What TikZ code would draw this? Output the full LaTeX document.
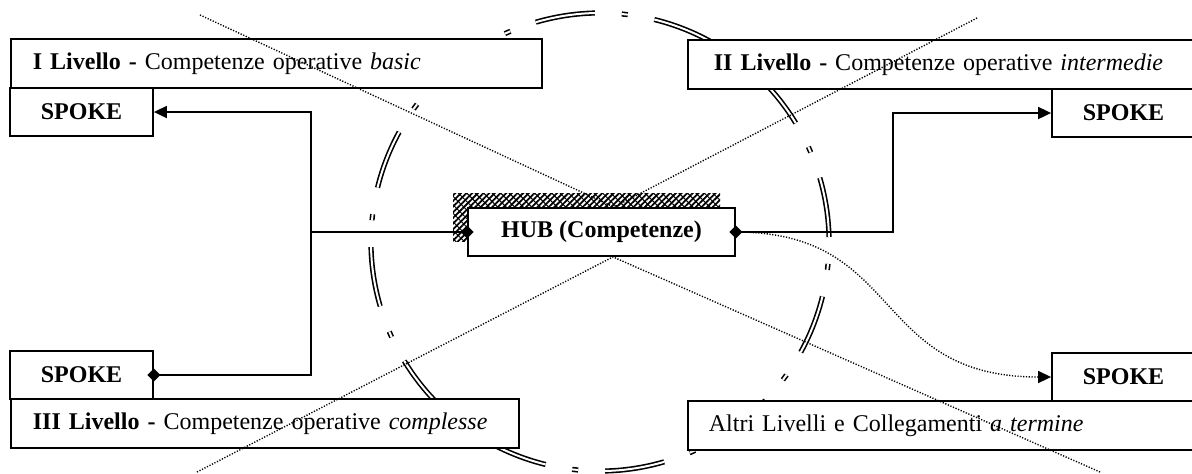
\documentclass[tikz,border=0pt]{standalone}
\usepackage{fontspec}
\setmainfont{Liberation Serif}
\usetikzlibrary{arrows.meta,patterns.meta}
\tikzset{
  tri/.tip={Triangle[length=6.5pt,width=6pt]},
  dia/.tip={Diamond[length=6.5pt,width=6.5pt]},
  box/.style={draw, line width=0.9pt, fill=white, inner sep=0pt},
  livbox/.style={box, anchor=west, minimum height=24.5pt, align=left},
  spokebox/.style={box, minimum width=71.5pt, minimum height=24pt, font=\fontsize{12pt}{14pt}\selectfont\bfseries},
  hubbox/.style={box, minimum width=133.5pt, minimum height=24pt, font=\fontsize{12pt}{14pt}\selectfont\bfseries},
  conn/.style={line width=0.9pt},
  dstart/.style={shorten <=-3.25pt},
  dend/.style={shorten >=-3.25pt},
  dotline/.style={line width=0.7pt, dash pattern=on 0.6pt off 0.8pt},
  ring/.style={double, line width=0.8pt, double distance=1pt,
    dash pattern=on 29.97pt off 13.49pt on 3pt off 13.49pt},
}
\begin{document}
\begin{tikzpicture}[x=0.5pt,y=-0.5pt,font=\fontsize{12pt}{14pt}\selectfont]
\fill[white] (0,0) rectangle (1192,473);
\useasboundingbox (0,0) rectangle (1192,473);

% dashed double ring
\draw[ring] (600,242) ++(16.25:114.5pt) arc[start angle=16.25, end angle=-343.75, radius=114.5pt];

% level boxes and spokes
\node[livbox, text width=243.5pt, inner xsep=11pt] (liv1) at (10,63.5)
  {\mbox{\textbf{I Livello -} Competenze operative \textit{basic}}};
\node[spokebox] (sp1) at (81.5,112) {SPOKE};
\node[livbox, text width=228pt, inner xsep=13pt] (liv2) at (687,64.5)
  {\mbox{\textbf{II Livello -} Competenze operative \textit{intermedie}}};
\node[spokebox] (sp2) at (1123.5,113) {SPOKE};
\node[livbox, text width=232pt, inner xsep=11pt] (liv3) at (10,423.5)
  {\mbox{\textbf{III Livello -} Competenze operative \textit{complesse}}};
\node[spokebox] (sp3) at (81.5,375) {SPOKE};
\node[livbox, text width=233pt, inner xsep=10.5pt] (liv4) at (687,425.5)
  {\mbox{Altri Livelli e Collegamenti \textit{a termine}}};
\node[spokebox] (sp4) at (1123.5,377) {SPOKE};

% hatched shadow and hub
\fill[pattern={Lines[angle=45,distance=2pt,line width=0.9pt]}] (453,193) rectangle (720,241);
\fill[pattern={Lines[angle=-45,distance=3pt,line width=0.5pt]}] (453,193) rectangle (720,241);
\node[hubbox] (hub) at (601.5,232) {HUB (Competenze)};

% dotted X
\coordinate (c1) at (200,15);
\coordinate (c2) at (977,18);
\coordinate (c3) at (197,472);
\coordinate (c4) at (1100,472);
\draw[dotline] (c1) -- ([xshift=6.25pt]hub.north);
\draw[dotline] (c2) -- ([xshift=6.25pt]hub.north);
\draw[dotline] (c3) -- ([xshift=5.75pt]hub.south);
\draw[dotline] (c4) -- ([xshift=5.75pt]hub.south);

% connectors
\coordinate (jl) at (311,232);
\coordinate (jr) at (893,232);
\draw[conn, dia-, dstart] (hub.west) -- (jl);
\draw[conn, -tri] (jl) |- (sp1.east);
\draw[conn, -dia, dend] (jl) |- (sp3.east);
\draw[conn, dia-tri, dstart] (hub.east) -- (jr) |- (sp2.west);
\draw[dotline, -tri] (hub.east) .. controls (905,232) and (870,377) .. (sp4.west);
\end{tikzpicture}
\end{document}
